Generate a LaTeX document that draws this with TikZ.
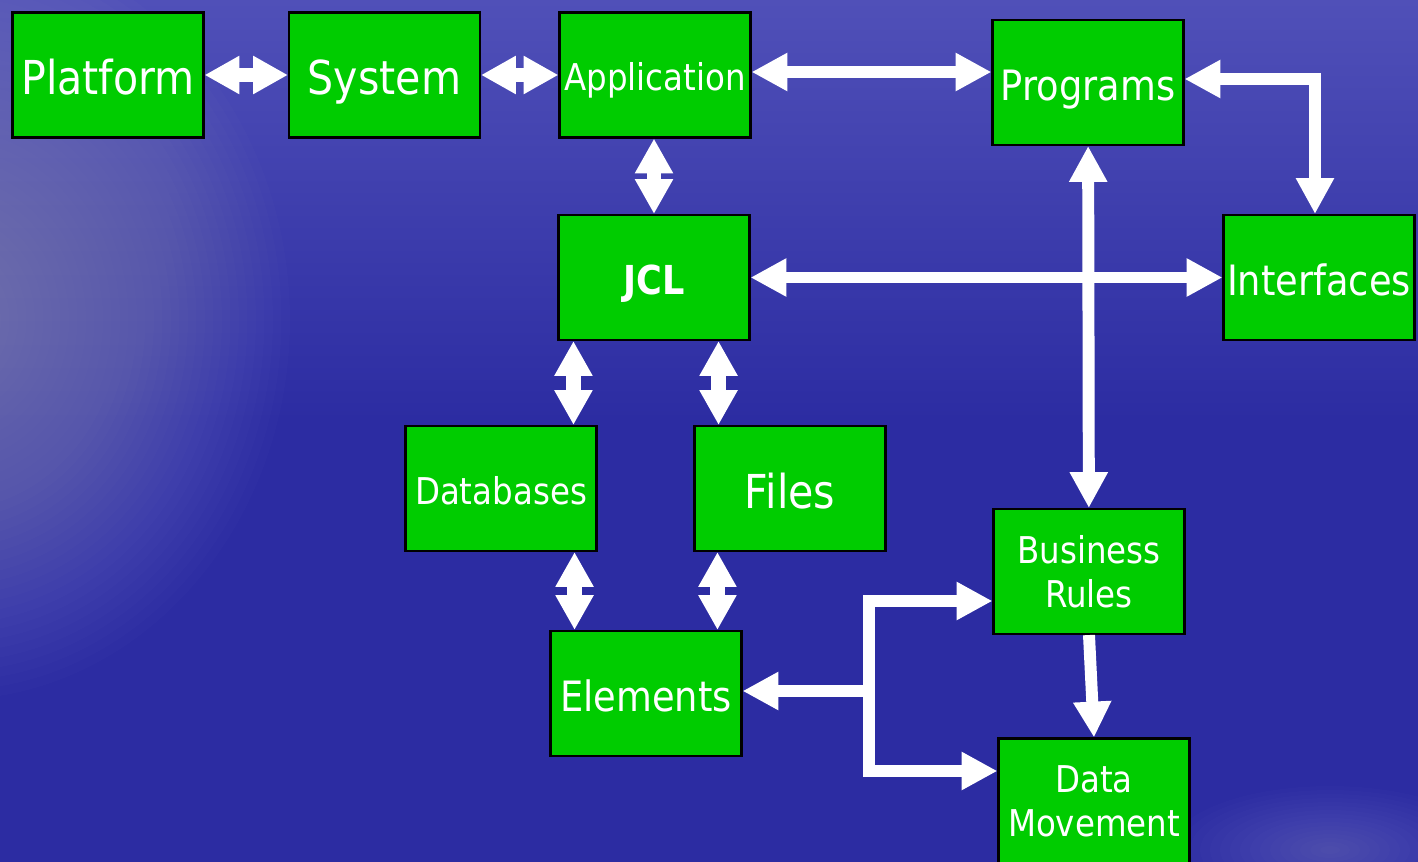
\documentclass[tikz,border=0pt]{standalone}
\usepackage{fontspec}
\setmainfont{DejaVu Sans}[FakeStretch=0.88]
\usetikzlibrary{arrows.meta}
\definecolor{bgbase}{RGB}{44,44,162}
\definecolor{bgtop}{RGB}{80,80,184}
\definecolor{boxgreen}{RGB}{0,204,0}
\begin{document}
\begin{tikzpicture}[x=0.02cm,y=-0.02cm,
 box/.style={draw=black, line width=1.2pt, fill=boxgreen, text=white,
   minimum width=3.82cm, minimum height=2.5cm, inner sep=0pt, align=center},
 big/.style={font=\fontsize{26.6}{30}\selectfont, text height=22.2pt, text depth=0pt},
 mid/.style={font=\fontsize{23.8}{28}\selectfont, text height=20.2pt, text depth=0pt},
 small/.style={font=\fontsize{21}{25}\selectfont, text height=18.1pt, text depth=0pt},
 smalltwo/.style={font=\fontsize{21}{25}\selectfont},
 boldlbl/.style={font=\bfseries\fontsize{22.7}{26}\selectfont, text height=19.4pt, text depth=0pt},
 longarr/.style={draw=white, line width=6.8pt,
   {Triangle[length=20.4pt,width=20.4pt]}-{Triangle[length=20.4pt,width=20.4pt]}},
 shortarr/.style={draw=white, line width=8.5pt,
   {Triangle[length=19.8pt,width=20.4pt]}-{Triangle[length=19.8pt,width=20.4pt]}},
 onearr/.style={draw=white, line width=6.8pt, -{Triangle[length=20.4pt,width=20.4pt]}},
 glowring/.style={fill=white, opacity=0.012},
]
\useasboundingbox (0,0) rectangle (1418,862);
\clip (0,0) rectangle (1418,862);
% background
\fill[bgbase] (0,0) rectangle (1418,862);
\shade[top color=bgtop, bottom color=bgbase] (0,0) rectangle (1418,420);
\foreach \k in {1,...,40} {
  \fill[glowring] (-50,320) ellipse ({\k*8.5} and {\k*9.5});
}
\foreach \k in {1,...,16} {
  \fill[glowring] (1330,850) ellipse ({\k*10} and {\k*4});
}

% nodes
\node[box,big] (plat) at (108,75) {Platform};
\node[box,big] (sys) at (384.5,75) {System};
\node[box,small] (app) at (655,75) {Application};
\node[box,mid] (prog) at (1088,82.5) {Programs};
\node[box,boldlbl] (jcl) at (654,277.5) {JCL};
\node[box,mid] (intf) at (1319,277.5) {Interfaces};
\node[box,small] (db) at (501,488.5) {Databases};
\node[box,big] (files) at (790,488.5) {Files};
\node[box,smalltwo] (br) at (1089,571.5) {Business\\Rules};
\node[box,mid] (elem) at (646,693.5) {Elements};
\node[box,smalltwo] (dm) at (1094,801) {Data\\Movement};

% connectors
\draw[shortarr] (plat) -- (sys);
\draw[shortarr] (sys) -- (app);
\draw[longarr] ([yshift=0.06cm]app.east) -- ([yshift=0.21cm]prog.west);
\draw[longarr] ([yshift=0.07cm]prog.east) -| ([xshift=-0.08cm]intf.north);
\draw[shortarr] (jcl.north |- app.south) -- (jcl.north);
\draw[longarr] (jcl) -- (intf);
\draw[longarr] (prog) -- (br);

\coordinate (c1) at ([xshift=0.32cm]jcl.south west);
\coordinate (c2) at ([xshift=-0.64cm]jcl.south east);
\coordinate (c3) at ([xshift=-0.46cm]db.south east);
\coordinate (c4) at ([xshift=0.48cm]files.south west);
\draw[shortarr] (c1) -- (c1 |- db.north);
\draw[shortarr] (c2) -- (c2 |- files.north);
\draw[shortarr] (c3) -- (c3 |- elem.north);
\draw[shortarr] (c4) -- (c4 |- elem.north);

\draw[onearr] (br.south) -- (dm.north);

\coordinate (jt) at (869,601);
\coordinate (jb) at (869,771);
\coordinate (jm) at (869,691);
\draw[onearr] (jm) -- (jm -| elem.east);
\draw[longarr] (jt -| br.west) -- (jt) -- (jb) -- (jb -| dm.west);
\end{tikzpicture}
\end{document}
